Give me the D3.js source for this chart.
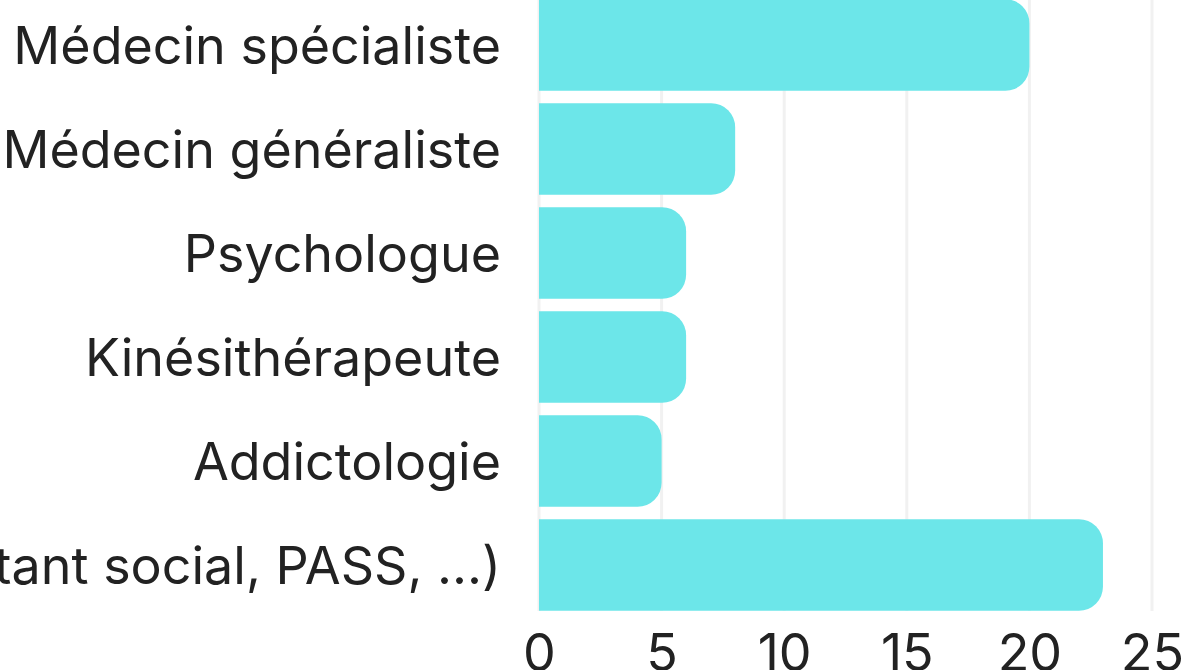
<!DOCTYPE html>
<html>
<head>
<meta charset="utf-8">
<script src="https://cdn.jsdelivr.net/npm/d3@7"></script>
<style>
  html, body { margin: 0; padding: 0; background: #fff; overflow: hidden; }
  svg { display: block; }
</style>
</head>
<body>
<div id="chart"></div>
<script>
const categories = [
    "Médecin spécialiste",
    "Médecin généraliste",
    "Psychologue",
    "Kinésithérapeute",
    "Addictologie",
    "Autre (assistant social, PASS, ...)"
];
const counts = [20, 8, 6, 6, 5, 23];
const xTicks = [0, 5, 10, 15, 20, 25];

const width = 1192, height = 670;
const barColor = "#6ce6e9";
const fontFamily = "Inter, 'Noto Sans', sans-serif";

const svg = d3.select("#chart").append("svg")
    .attr("width", width)
    .attr("height", height);

const x = d3.scaleLinear()
    .domain([0, 25])
    .range([539, 1152]);

const y = d3.scaleBand()
    .domain(categories)
    .range([-7, 617])
    .paddingInner(0.12)
    .paddingOuter(0.06);

// vertical grid lines
svg.append("g")
    .selectAll("line")
    .data(xTicks)
    .join("line")
    .attr("x1", d => x(d))
    .attr("x2", d => x(d))
    .attr("y1", 0)
    .attr("y2", 611)
    .attr("stroke", "#f1f1f1")
    .attr("stroke-width", 3);

// bars, rounded on the right end only
function barPath(d, i) {
    const x0 = x(0), x1 = x(counts[i]);
    const y0 = y(d), h = y.bandwidth();
    const r = Math.min(24, h / 2, x1 - x0);
    return `M${x0},${y0}H${x1 - r}A${r},${r} 0 0 1 ${x1},${y0 + r}` +
        `V${y0 + h - r}A${r},${r} 0 0 1 ${x1 - r},${y0 + h}H${x0}Z`;
}

svg.append("g")
    .selectAll("path")
    .data(categories)
    .join("path")
    .attr("d", barPath)
    .attr("fill", barColor);

// category labels
svg.append("g")
    .selectAll("text")
    .data(categories)
    .join("text")
    .attr("x", 501)
    .attr("y", d => y(d) + y.bandwidth() / 2)
    .attr("dy", "0.36em")
    .attr("text-anchor", "end")
    .attr("fill", "#222")
    .style("font-family", fontFamily)
    .style("font-size", "52px")
    .text(d => d);

// x axis
const xAxis = svg.append("g")
    .attr("transform", "translate(0, 612)")
    .call(d3.axisBottom(x).tickValues(xTicks).tickSize(0).tickPadding(22));

xAxis.select(".domain").remove();
xAxis.selectAll("text")
    .attr("fill", "#222")
    .style("font-family", fontFamily)
    .style("font-size", "52px");
</script>
</body>
</html>
